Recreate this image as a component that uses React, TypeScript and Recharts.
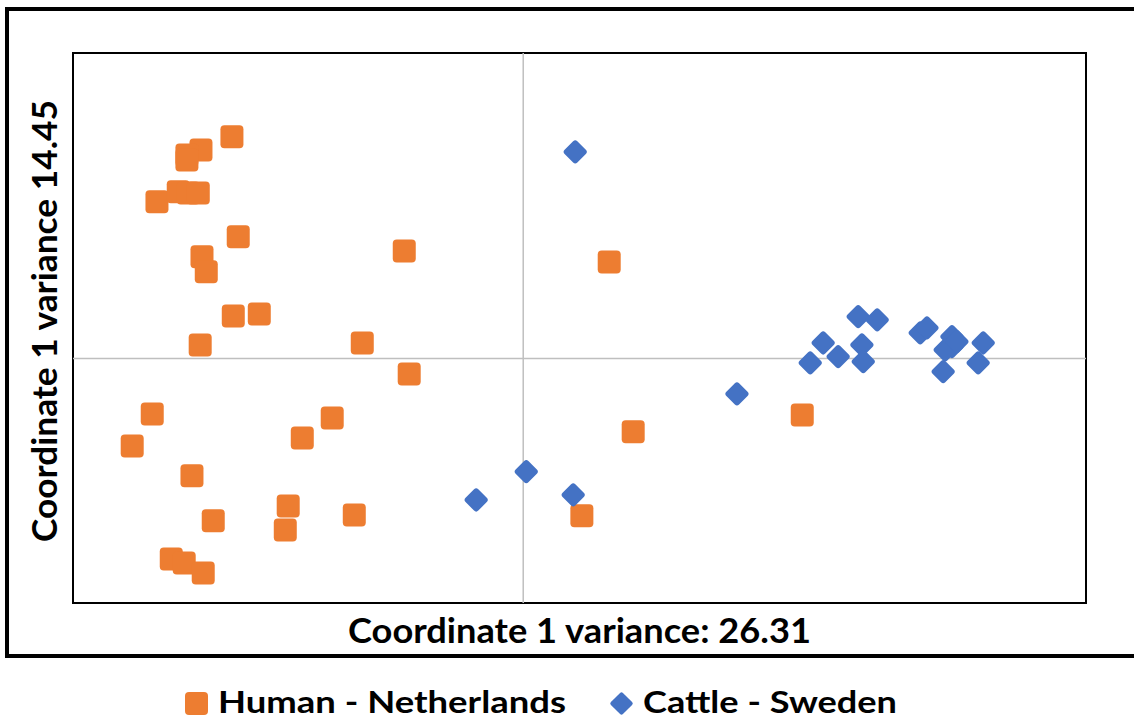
import {
  ScatterChart,
  Scatter,
  XAxis,
  YAxis,
  ReferenceLine,
  ReferenceArea,
  Legend,
} from 'recharts'

// PCoA coordinates
const humanX = [
  -0.2588, -0.2863, -0.2988, -0.2988, -0.3254, -0.3065, -0.2976, -0.2887, -0.2532, -0.2854,
  -0.2816, -0.1057, 0.0764, -0.2576, -0.2345, -0.287, -0.143, -0.1013, -0.3296, -0.1697,
  -0.1963, -0.3474, 0.0977, 0.2479, -0.2943, -0.2088, -0.2114, -0.1501, -0.2754, 0.0521,
  -0.3127, -0.3012, -0.2843,
]
const humanY = [
  0.3631, 0.3413, 0.3332, 0.325, 0.2567, 0.2731, 0.271, 0.271, 0.1995, 0.1667,
  0.1422, 0.1761, 0.1581, 0.0697, 0.073, 0.0223, 0.0255, -0.0252, -0.0907, -0.0972,
  -0.1299, -0.143, -0.1196, -0.0923, -0.1916, -0.2412, -0.2805, -0.2559, -0.2653, -0.2571,
  -0.3279, -0.3345, -0.3508,
]
const cattleX = [
  0.0462, 0.1899, 0.0027, -0.0418, 0.0444, 0.255, 0.2665, 0.2798, 0.2976, 0.3145,
  0.3009, 0.3021, 0.3527, 0.3587, 0.3809, 0.3809, 0.3749, 0.3853, 0.3731, 0.4087,
  0.4042,
]
const cattleY = [
  0.3381, -0.0579, -0.1851, -0.2314, -0.2232, -0.0072, 0.0255, 0.0031, 0.0686, 0.0632,
  0.0223, -0.0051, 0.0419, 0.0501, 0.0358, 0.0195, 0.0141, 0.0277, -0.0214, 0.0255,
  -0.0072,
]
const seriesNames = ['Human - Netherlands', 'Cattle - Sweden']
const xTitle = 'Coordinate 1 variance: 26.31'
const yTitle = 'Coordinate 1 variance 14.45'

const ORANGE = '#ED7D31'
const BLUE = '#4472C4'
const FONT = 'Lato, "Open Sans", sans-serif'

const human = humanX.map((x, i) => ({ x, y: humanY[i] }))
const cattle = cattleX.map((x, i) => ({ x, y: cattleY[i] }))

const SquareShape = (props: any) => {
  const { cx, cy } = props
  const s = 23
  return <rect x={cx - s / 2} y={cy - s / 2} width={s} height={s} rx={4} fill={ORANGE} />
}

const DiamondShape = (props: any) => {
  const { cx, cy } = props
  const s = 18
  return (
    <rect
      x={cx - s / 2}
      y={cy - s / 2}
      width={s}
      height={s}
      rx={3}
      fill={BLUE}
      transform={`rotate(45 ${cx} ${cy})`}
    />
  )
}

// legend drawn in its own svg, 676..720
const LegendContent = () => (
  <svg width={1134} height={44} style={{ display: 'block' }}>
    <rect x={185} y={16} width={23} height={23} rx={4} fill={ORANGE} />
    <text x={218} y={37} fontFamily={FONT} fontWeight={700} fontSize={30} textLength={348} lengthAdjust="spacingAndGlyphs">
      {seriesNames[0]}
    </text>
    <rect x={613} y={19} width={17} height={17} rx={2} fill={BLUE} transform="rotate(45 621.5 27.5)" />
    <text x={643} y={37} fontFamily={FONT} fontWeight={700} fontSize={30} textLength={254} lengthAdjust="spacingAndGlyphs">
      {seriesNames[1]}
    </text>
  </svg>
)

export default function App() {
  return (
    <div style={{ position: 'fixed', left: 0, top: 0, width: 1134, height: 720, overflow: 'hidden', background: '#fff' }}>
      <style>{'html, body { margin: 0; overflow: hidden; }'}</style>
      <div
        style={{
          position: 'absolute',
          left: 5,
          top: 7,
          width: 1160,
          height: 643,
          borderTop: '4px solid #000',
          borderLeft: '4px solid #000',
          borderBottom: '4px solid #000',
          boxSizing: 'content-box',
        }}
      />
      <ScatterChart
        width={1134}
        height={720}
        margin={{ top: 53, right: 48, bottom: 117, left: 73 }}
        style={{ position: 'absolute', left: 0, top: 0 }}
      >
        <XAxis type="number" dataKey="x" domain={[-0.4, 0.5]} hide />
        <YAxis type="number" dataKey="y" domain={[-0.4, 0.5]} hide />
        <ReferenceArea x1={-0.4} x2={0.5} y1={-0.4} y2={0.5} fill="none" stroke="#000" strokeWidth={2} ifOverflow="visible" />
        <ReferenceLine x={0} stroke="#BFBFBF" strokeWidth={1.5} />
        <ReferenceLine y={0} stroke="#BFBFBF" strokeWidth={1.5} />
        <Scatter name={seriesNames[0]} data={human} shape={SquareShape} isAnimationActive={false} />
        <Scatter name={seriesNames[1]} data={cattle} shape={DiamondShape} isAnimationActive={false} />
        <Legend
          content={LegendContent}
          verticalAlign="middle"
          wrapperStyle={{ left: 0, top: 676, width: 1134, height: 44 }}
        />
      </ScatterChart>
      <svg width={1134} height={720} style={{ position: 'absolute', left: 0, top: 0, pointerEvents: 'none' }}>
        <text x={348} y={643} fontFamily={FONT} fontWeight={700} fontSize={34} textLength={463} lengthAdjust="spacingAndGlyphs">
          {xTitle}
        </text>
        <text
          x={0}
          y={0}
          fontFamily={FONT}
          fontWeight={700}
          fontSize={34}
          textLength={442}
          lengthAdjust="spacingAndGlyphs"
          transform="translate(57 542) rotate(-90)"
        >
          {yTitle}
        </text>
      </svg>
    </div>
  )
}
